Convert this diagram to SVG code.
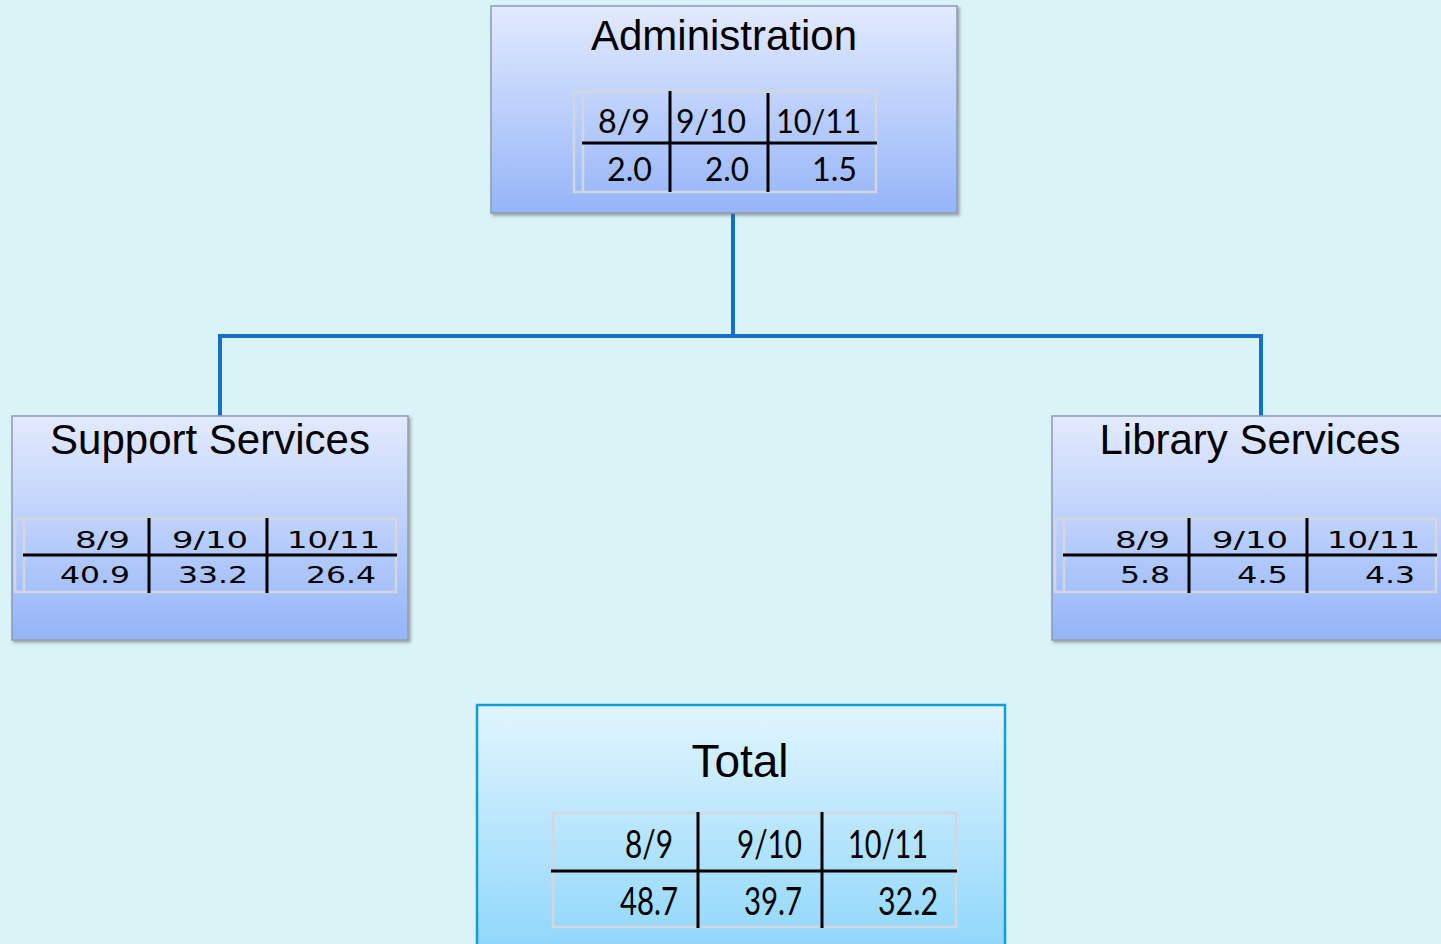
<svg xmlns="http://www.w3.org/2000/svg" width="1441" height="944" viewBox="0 0 1441 944">
<style>
.title{font-family:"Liberation Sans",Arial,sans-serif;font-size:42px;fill:#000;text-anchor:middle}
.cal{font-family:Lato,"Open Sans",sans-serif;fill:#000}
.ver{font-family:"DejaVu Sans",Verdana,sans-serif;fill:#000;font-size:23px}
.grid{fill:none;stroke:#d2d6e0;stroke-width:2.5}
.bl{stroke:#000;stroke-width:3}
.conn{stroke:#1670c8;stroke-width:4;fill:none}
.box{stroke:#8d9cb5;stroke-width:1.5;filter:url(#sh)}
</style>
<defs>
<linearGradient id="gb" x1="0" y1="0" x2="0" y2="1">
<stop offset="0" stop-color="#e2eafe"/>
<stop offset="1" stop-color="#95b5f8"/>
</linearGradient>
<linearGradient id="gt" x1="0" y1="0" x2="0" y2="1">
<stop offset="0" stop-color="#e2f5fe"/>
<stop offset="1" stop-color="#8ed6fb"/>
</linearGradient>
<filter id="sh" x="-5%" y="-5%" width="115%" height="115%">
<feDropShadow dx="2" dy="2" stdDeviation="1.5" flood-color="#555" flood-opacity="0.5"/>
</filter>
</defs>
<rect width="1441" height="944" fill="#daf3f7"/>
<g id="connectors">
<path class="conn" d="M733 210 V336 M220 336 H1261 M220 334 V416 M1261 334 V416"/>
</g>
<g id="administration">
<rect class="box" x="491" y="6" width="466" height="207" fill="url(#gb)"/>
<text class="title" x="724" y="50">Administration</text>
<rect class="grid" x="574" y="92" width="302" height="100"/>
<line class="grid" x1="583" y1="92" x2="583" y2="192"/>
<line class="bl" x1="582" y1="143" x2="877" y2="143"/>
<line class="bl" x1="670" y1="91" x2="670" y2="192"/>
<line class="bl" x1="768" y1="93" x2="768" y2="192"/>
<g class="cal" font-size="32">
<text x="598" y="133" textLength="52" lengthAdjust="spacingAndGlyphs">8/9</text>
<text x="676" y="133" textLength="70" lengthAdjust="spacingAndGlyphs">9/10</text>
<text x="776" y="133" textLength="85" lengthAdjust="spacingAndGlyphs">10/11</text>
<text x="607" y="181" textLength="45" lengthAdjust="spacingAndGlyphs">2.0</text>
<text x="705" y="181" textLength="44" lengthAdjust="spacingAndGlyphs">2.0</text>
<text x="812" y="181" textLength="45" lengthAdjust="spacingAndGlyphs">1.5</text>
</g>
</g>
<g id="support-services">
<rect class="box" x="12" y="416" width="396" height="224" fill="url(#gb)"/>
<text class="title" x="210" y="454">Support Services</text>
<rect class="grid" x="15" y="519" width="381" height="73"/>
<line class="grid" x1="24" y1="519" x2="24" y2="592"/>
<line class="bl" x1="23" y1="555" x2="397" y2="555"/>
<line class="bl" x1="149" y1="518" x2="149" y2="593"/>
<line class="bl" x1="267" y1="518" x2="267" y2="593"/>
<g class="ver">
<text x="75" y="548" textLength="55" lengthAdjust="spacingAndGlyphs">8/9</text>
<text x="172" y="548" textLength="76" lengthAdjust="spacingAndGlyphs">9/10</text>
<text x="287" y="548" textLength="93" lengthAdjust="spacingAndGlyphs">10/11</text>
<text x="60" y="583" textLength="70" lengthAdjust="spacingAndGlyphs">40.9</text>
<text x="178" y="583" textLength="70" lengthAdjust="spacingAndGlyphs">33.2</text>
<text x="306" y="583" textLength="70" lengthAdjust="spacingAndGlyphs">26.4</text>
</g>
</g>
<g id="library-services">
<rect class="box" x="1052" y="416" width="396" height="224" fill="url(#gb)"/>
<text class="title" x="1250" y="454">Library Services</text>
<rect class="grid" x="1055" y="519" width="381" height="73"/>
<line class="grid" x1="1064" y1="519" x2="1064" y2="592"/>
<line class="bl" x1="1063" y1="555" x2="1437" y2="555"/>
<line class="bl" x1="1189" y1="518" x2="1189" y2="593"/>
<line class="bl" x1="1307" y1="518" x2="1307" y2="593"/>
<g class="ver">
<text x="1115" y="548" textLength="55" lengthAdjust="spacingAndGlyphs">8/9</text>
<text x="1212" y="548" textLength="76" lengthAdjust="spacingAndGlyphs">9/10</text>
<text x="1327" y="548" textLength="93" lengthAdjust="spacingAndGlyphs">10/11</text>
<text x="1120" y="583" textLength="50" lengthAdjust="spacingAndGlyphs">5.8</text>
<text x="1237" y="583" textLength="51" lengthAdjust="spacingAndGlyphs">4.5</text>
<text x="1365" y="583" textLength="50" lengthAdjust="spacingAndGlyphs">4.3</text>
</g>
</g>
<g id="total">
<rect x="477" y="705" width="528" height="250" fill="url(#gt)" stroke="#0aa0dc" stroke-width="2.5"/>
<text class="title" x="740" y="777" style="font-size:46px">Total</text>
<rect class="grid" x="553" y="813" width="403" height="114"/>
<line class="bl" x1="551" y1="871" x2="957" y2="871"/>
<line class="bl" x1="698" y1="812" x2="698" y2="928"/>
<line class="bl" x1="822" y1="812" x2="822" y2="928"/>
<g class="cal" font-size="38">
<text x="625" y="858" textLength="48" lengthAdjust="spacingAndGlyphs">8/9</text>
<text x="737" y="858" textLength="65" lengthAdjust="spacingAndGlyphs">9/10</text>
<text x="848" y="858" textLength="80" lengthAdjust="spacingAndGlyphs">10/11</text>
<text x="620" y="915" textLength="58" lengthAdjust="spacingAndGlyphs">48.7</text>
<text x="744" y="915" textLength="58" lengthAdjust="spacingAndGlyphs">39.7</text>
<text x="878" y="915" textLength="60" lengthAdjust="spacingAndGlyphs">32.2</text>
</g>
</g>
</svg>
